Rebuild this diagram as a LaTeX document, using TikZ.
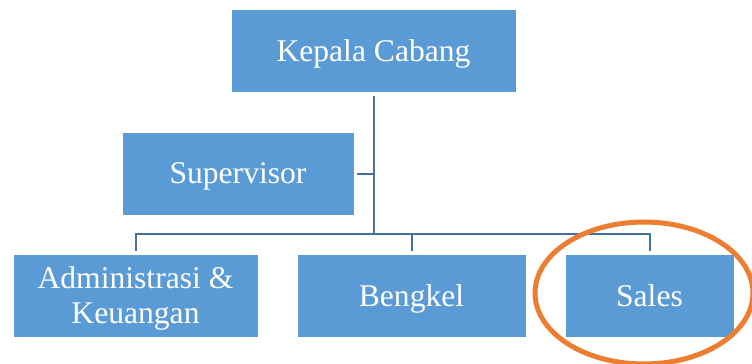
\documentclass[tikz,border=0pt]{standalone}
\usepackage{fontspec}
\setmainfont{Liberation Serif}
\usepackage{tikz}
\usetikzlibrary{positioning,shapes.geometric,calc}
\definecolor{orgBlue}{HTML}{5B9BD5}
\definecolor{orgLine}{HTML}{41719C}
\definecolor{orgOrange}{HTML}{ED7D31}
\tikzset{
  unitbox/.style={draw=white, line width=0.4pt, fill=orgBlue, text=white,
                  minimum height=41.5pt, align=center, inner sep=2pt,
                  text depth=0pt, font=\fontsize{15.8}{17.5}\selectfont},
  linkline/.style={draw=orgLine, line width=1pt},
  markring/.style={draw=orgOrange, ellipse, line width=2.5pt,
                   minimum width=109pt, minimum height=71pt, inner sep=0pt},
}
\begin{document}
\begin{tikzpicture}[x=0.5pt, y=-0.5pt]
\useasboundingbox (0,0) rectangle (752,364);
\def\yTop{51}      % y-position for head row
\def\ySup{173.5}   % y-position for supervisor
\def\yBot{295.5}   % y-position for unit row
\def\yBus{234}     % y-position for the bus line

%% Head and Supervisor
\node[unitbox, minimum width=142.5pt] (kc) at (373.5,\yTop) {Kepala Cabang};
\node[unitbox, minimum width=116pt] (sup) at (238,\ySup) {Supervisor};

%% Unit Row
\foreach \n/\x/\w/\lbl in {adm/135.5/122.5/{Administrasi \&\\Keuangan},
                           bkl/411.5/114.5/Bengkel, sls/649.5/84.5/Sales} {
  \node[unitbox, minimum width=\w pt] (\n) at (\x,\yBot) {\lbl};
}

%% Connectors
\coordinate (bus) at (kc.south |- 0,\yBus);
\draw[linkline, shorten <=1.5pt] (kc.south) -- (bus);
\draw[linkline, shorten <=1.5pt] (sup.east) -- (sup.east -| bus);
\foreach \n in {adm,bkl,sls} {
  \draw[linkline, shorten >=1.5pt] (bus) -| (\n.north);
}

%% Highlight
\node[markring] (ring) at (644,293) {};
\end{tikzpicture}
\end{document}
